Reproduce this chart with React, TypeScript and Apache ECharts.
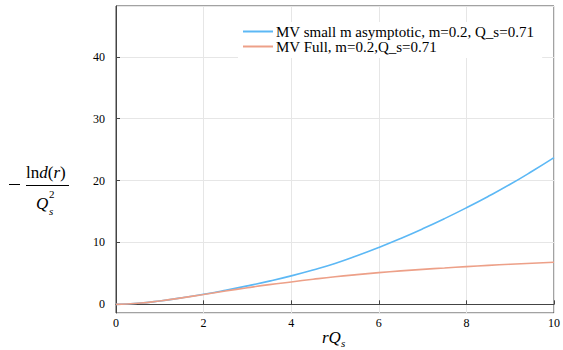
import React, { useEffect, useRef } from "react";
import * as echarts from "echarts";

const xValues = [0, 0.5, 1, 1.5, 2, 2.5, 3, 3.5, 4, 4.5, 5, 5.5, 6, 6.5, 7, 7.5, 8, 8.5, 9, 9.5, 10];
const smallM = [0, 0.17, 0.55, 1.05, 1.62, 2.27, 2.98, 3.75, 4.6, 5.55, 6.6, 7.85, 9.2, 10.65, 12.2, 13.85, 15.6, 17.45, 19.4, 21.5, 23.7];
const full = [0, 0.17, 0.55, 1.05, 1.6, 2.15, 2.68, 3.18, 3.62, 4.05, 4.45, 4.8, 5.12, 5.4, 5.65, 5.88, 6.1, 6.3, 6.48, 6.65, 6.8];
const seriesNames = ["MV small m asymptotic, m=0.2, Q_s=0.71", "MV Full, m=0.2,Q_s=0.71"];
const colors = ["#5cb8f5", "#eda088"];

const SERIF = "Liberation Serif";

export default function App() {
  const ref = useRef<HTMLDivElement>(null);
  useEffect(() => {
    if (!ref.current) return;
    const chart = echarts.init(ref.current, undefined, { renderer: "svg" });
    chart.setOption({
      animation: false,
      backgroundColor: "#ffffff",
      textStyle: { fontFamily: SERIF },
      grid: {
        left: 116,
        right: 6,
        top: 6,
        bottom: 37,
        show: true,
        borderColor: "#444444",
        borderWidth: 1,
        backgroundColor: "transparent",
      },
      legend: {
        orient: "vertical",
        left: 238,
        top: 22,
        icon: "rect",
        itemWidth: 30,
        itemHeight: 2,
        itemGap: 0,
        padding: [2, 8, 4, 5],
        backgroundColor: "#ffffff",
        textStyle: { fontFamily: SERIF, fontSize: 15, color: "#000", lineHeight: 15, padding: [0, 0, 0, -2] },
        data: seriesNames,
      },
      xAxis: {
        type: "value",
        min: 0,
        max: 10,
        interval: 2,
        axisLine: { show: true, lineStyle: { color: "#444444", width: 1 } },
        axisTick: { show: true, inside: true, length: 4, lineStyle: { color: "#444444" } },
        axisLabel: { fontFamily: SERIF, fontSize: 12, color: "#000", margin: 4 },
        splitLine: { show: true, lineStyle: { color: "#e6e6e6", width: 1 } },
      },
      yAxis: {
        type: "value",
        min: -1.4,
        max: 48.2,
        splitNumber: 5,
        axisLine: { show: true, lineStyle: { color: "#444444", width: 1 } },
        axisTick: { show: true, inside: true, length: 4, lineStyle: { color: "#444444" } },
        axisLabel: {
          fontFamily: SERIF,
          fontSize: 12,
          color: "#000",
          margin: 11,
          showMinLabel: false,
          showMaxLabel: false,
          formatter: (v: number) => (Math.abs(v - Math.round(v)) < 1e-6 && Math.round(v) % 10 === 0 ? String(Math.round(v)) : ""),
        },
        splitLine: { show: true, lineStyle: { color: "#e6e6e6", width: 1 } },
      },
      series: [
        {
          name: seriesNames[0],
          type: "line",
          data: xValues.map((x, i) => [x, smallM[i]]),
          showSymbol: false,
          smooth: true,
          lineStyle: { color: colors[0], width: 1.6 },
          itemStyle: { color: colors[0] },
        },
        {
          name: seriesNames[1],
          type: "line",
          data: xValues.map((x, i) => [x, full[i]]),
          showSymbol: false,
          smooth: true,
          lineStyle: { color: colors[1], width: 1.6 },
          itemStyle: { color: colors[1] },
        },
      ],
      graphic: [
        {
          type: "text",
          x: 322,
          y: 327,
          style: {
            text: "{i|rQ}{s|s}",
            rich: {
              i: { fontFamily: SERIF, fontStyle: "italic", fontSize: 17, fill: "#000" },
              s: { fontFamily: SERIF, fontStyle: "italic", fontSize: 11, fill: "#000", padding: [10, 0, 0, 0] },
            },
          },
        },
        {
          type: "line",
          shape: { x1: 9, y1: 184.5, x2: 20, y2: 184.5 },
          style: { stroke: "#000", lineWidth: 1 },
        },
        {
          type: "text",
          x: 26,
          y: 164,
          style: {
            text: "{n|ln}{i|d}{n|(}{i|r}{n|)}",
            rich: {
              n: { fontFamily: SERIF, fontSize: 17, fill: "#000" },
              i: { fontFamily: SERIF, fontStyle: "italic", fontSize: 17, fill: "#000" },
            },
          },
        },
        {
          type: "line",
          shape: { x1: 26, y1: 185.5, x2: 69, y2: 185.5 },
          style: { stroke: "#000", lineWidth: 1 },
        },
        {
          type: "text",
          x: 36,
          y: 195,
          style: { text: "Q", fontFamily: SERIF, fontStyle: "italic", fontSize: 17, fill: "#000" },
        },
        {
          type: "text",
          x: 49,
          y: 188,
          style: { text: "2", fontFamily: SERIF, fontSize: 11, fill: "#000" },
        },
        {
          type: "text",
          x: 49,
          y: 205,
          style: { text: "s", fontFamily: SERIF, fontStyle: "italic", fontSize: 11, fill: "#000" },
        },
      ],
    });
    return () => chart.dispose();
  }, []);
  return <div ref={ref} style={{ width: 563, height: 350, position: "fixed", left: 0, top: 0 }} />;
}
